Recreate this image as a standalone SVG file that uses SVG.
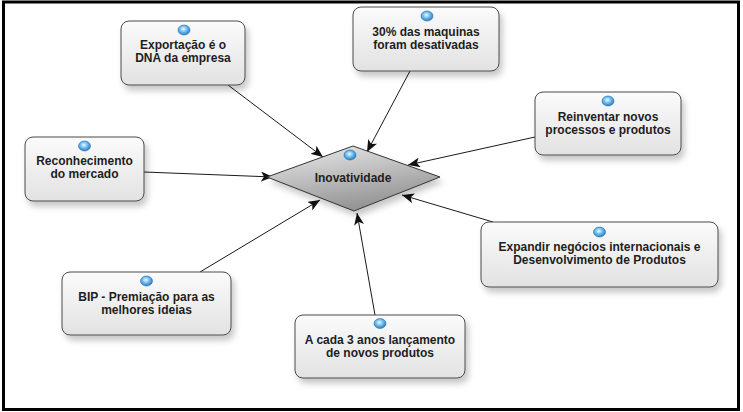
<svg xmlns="http://www.w3.org/2000/svg" width="743" height="412" viewBox="0 0 743 412">
<defs>
<linearGradient id="boxg" x1="0" y1="0" x2="0" y2="1">
<stop offset="0" stop-color="#fbfbfb"/>
<stop offset="1" stop-color="#e2e2e2"/>
</linearGradient>
<linearGradient id="diag" x1="0.2" y1="0" x2="0.6" y2="1">
<stop offset="0" stop-color="#e6e6e6"/>
<stop offset="1" stop-color="#8e8e8e"/>
</linearGradient>
<radialGradient id="dot" cx="0.45" cy="0.4" r="0.6">
<stop offset="0" stop-color="#eef8ff"/>
<stop offset="0.5" stop-color="#6dbdf0"/>
<stop offset="1" stop-color="#2a78c0"/>
</radialGradient>
<filter id="sh" x="-20%" y="-20%" width="150%" height="160%">
<feDropShadow dx="3" dy="5" stdDeviation="3" flood-color="#000" flood-opacity="0.22"/>
</filter>
<marker id="arr" viewBox="0 0 12 10" refX="12" refY="5" markerWidth="12" markerHeight="10" markerUnits="userSpaceOnUse" orient="auto">
<path d="M0,0 L12,5 L0,10 L3,5 Z" fill="#111"/>
</marker>
<style>
.box{fill:url(#boxg);stroke:#4a4a4a;stroke-width:1;filter:url(#sh)}
.dot{fill:url(#dot);stroke:#2a6fb0;stroke-width:0.6}
.t{font-family:"Liberation Sans",Arial,sans-serif;font-weight:bold;font-size:12px;fill:#1e1e1e;text-anchor:middle}
.c{stroke:#1a1a1a;stroke-width:1;fill:none;marker-end:url(#arr)}
</style>
</defs>
<rect x="0" y="0" width="743" height="412" fill="#fff"/>
<rect x="3.5" y="2" width="735" height="407.5" fill="#fff" stroke="#000" stroke-width="3"/>

<g id="connectors">
<line class="c" x1="228" y1="85" x2="323" y2="157"/>
<line class="c" x1="410" y1="71" x2="367" y2="152"/>
<line class="c" x1="535" y1="137" x2="408" y2="165"/>
<line class="c" x1="144" y1="172" x2="273" y2="177"/>
<line class="c" x1="200" y1="272" x2="320" y2="200"/>
<line class="c" x1="375" y1="315" x2="357" y2="213"/>
<line class="c" x1="493" y1="222" x2="402" y2="195"/>
</g>

<g id="inovatividade">
<polygon points="267,177 353,146 440,177 354,211" fill="url(#diag)" stroke="#333" stroke-width="1" filter="url(#sh)"/>
<ellipse class="dot" cx="350" cy="155" rx="6" ry="5"/>
<text class="t" x="353" y="182">Inovatividade</text>
</g>

<g id="exportacao">
<rect class="box" x="121" y="21" width="124" height="64" rx="8"/>
<ellipse class="dot" cx="184" cy="30" rx="6" ry="5"/>
<text class="t" x="183" y="48.5">Exportação é o</text>
<text class="t" x="183" y="61.5">DNA da empresa</text>
</g>

<g id="maquinas">
<rect class="box" x="353" y="7" width="146" height="64" rx="8"/>
<ellipse class="dot" cx="427" cy="16" rx="6" ry="5"/>
<text class="t" x="426" y="36">30% das maquinas</text>
<text class="t" x="426" y="49">foram desativadas</text>
</g>

<g id="reinventar">
<rect class="box" x="535" y="92" width="146" height="63" rx="8"/>
<ellipse class="dot" cx="608" cy="101" rx="6" ry="5"/>
<text class="t" x="608" y="120.5">Reinventar novos</text>
<text class="t" x="608" y="133.5">processos e produtos</text>
</g>

<g id="reconhecimento">
<rect class="box" x="25" y="137" width="119" height="64" rx="8"/>
<ellipse class="dot" cx="84.5" cy="146" rx="6" ry="5"/>
<text class="t" x="84.5" y="165">Reconhecimento</text>
<text class="t" x="84.5" y="178">do mercado</text>
</g>

<g id="expandir">
<rect class="box" x="481" y="222" width="237" height="65" rx="8"/>
<ellipse class="dot" cx="599.5" cy="232" rx="6" ry="5"/>
<text class="t" x="599.5" y="250.5">Expandir negócios internacionais e</text>
<text class="t" x="599.5" y="263.5">Desenvolvimento de Produtos</text>
</g>

<g id="bip">
<rect class="box" x="62" y="272" width="169" height="63" rx="8"/>
<ellipse class="dot" cx="146.5" cy="281" rx="6" ry="5"/>
<text class="t" x="146.5" y="300.5">BIP - Premiação para as</text>
<text class="t" x="146.5" y="313.5">melhores ideias</text>
</g>

<g id="acada">
<rect class="box" x="295" y="315" width="170" height="63" rx="8"/>
<ellipse class="dot" cx="380" cy="323.5" rx="6" ry="5"/>
<text class="t" x="380" y="343.5">A cada 3 anos lançamento</text>
<text class="t" x="380" y="356.5">de novos produtos</text>
</g>
</svg>
